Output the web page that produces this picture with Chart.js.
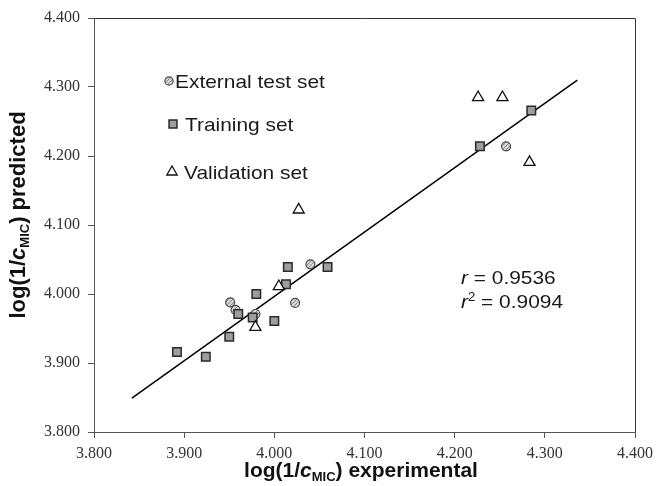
<!DOCTYPE html>
<html>
<head>
<meta charset="utf-8">
<script src="https://cdn.jsdelivr.net/npm/chart.js@4.4.1/dist/chart.umd.min.js"></script>
<style>
  html, body { margin: 0; padding: 0; background: #fff; }
  #wrap { width: 659px; height: 486px; position: relative; }
</style>
</head>
<body>
<div id="wrap"><canvas id="chart"></canvas></div>
<script>
'use strict';

// ── Data ───────────────────────────────────────────────────────────────────
const trainX = [3.892, 3.924, 3.950, 3.960, 3.976, 3.980, 4.000, 4.013, 4.015, 4.059, 4.228, 4.285];
const trainY = [3.916, 3.909, 3.938, 3.971, 3.966, 4.000, 3.961, 4.014, 4.039, 4.039, 4.214, 4.266];

const extX = [3.951, 3.957, 3.979, 4.023, 4.040, 4.257];
const extY = [3.988, 3.977, 3.971, 3.987, 4.043, 4.214];

const valX = [3.979, 4.005, 4.027, 4.226, 4.253, 4.283];
const valY = [3.952, 4.011, 4.122, 4.285, 4.285, 4.191];

// regression line end points
const fitX = [3.842, 4.336];
const fitY = [3.849, 4.310];

const axisMin  = 3.8;
const axisMax  = 4.4;
const axisStep = 0.1;

const legendLabels = ['External test set', 'Training set', 'Validation set'];
const statLines    = ['0.9536', '0.9094'];

// ── Helpers ────────────────────────────────────────────────────────────────
const SANS  = '"Liberation Sans", Arial, sans-serif';
const SERIF = '"Liberation Serif", "Times New Roman", serif';
const WIDE  = 1.1; // the in-plot labels are set a little wider than Arial

function zip(xs, ys) {
  return xs.map(function (x, i) { return { x: x, y: ys[i] }; });
}

/** Small diagonal hatch used for the external test set circles. */
function hatchPattern() {
  const c = document.createElement('canvas');
  c.width = 4; c.height = 4;
  const g = c.getContext('2d');
  g.fillStyle = '#d4d4d4';
  g.fillRect(0, 0, 4, 4);
  g.strokeStyle = '#8c8c8c';
  g.lineWidth = 1;
  g.beginPath();
  g.moveTo(0, 4); g.lineTo(4, 0);
  g.stroke();
  return g.createPattern(c, 'repeat');
}

/** Text runs with mixed fonts / baselines. */
function runsWidth(ctx, runs) {
  let w = 0;
  runs.forEach(function (r) { ctx.font = r.f; w += ctx.measureText(r.t).width; });
  return w;
}
function drawRuns(ctx, runs, x, y) {
  runs.forEach(function (r) {
    ctx.font = r.f;
    ctx.fillText(r.t, x, y + (r.dy || 0));
    x += ctx.measureText(r.t).width;
  });
}
function drawWide(ctx, runs, x, y) {
  ctx.save();
  ctx.translate(x, y);
  ctx.scale(WIDE, 1);
  drawRuns(ctx, runs, 0, 0);
  ctx.restore();
}

const hatch = hatchPattern();

const styles = {
  ext:   { pointStyle: 'circle',   radius: 4.5, fill: hatch,     border: '#4a4a4a', bw: 1.2 },
  train: { pointStyle: 'rect',     radius: 6.0, fill: '#9e9e9e', border: '#2a2a2a', bw: 1.5 },
  val:   { pointStyle: 'triangle', radius: 6.4, fill: '#ffffff', border: '#111111', bw: 1.3 },
};

// ── Overlay: frame, in-plot legend, stats, axis titles ─────────────────────
const overlay = {
  id: 'overlay',
  afterDraw: function (chart) {
    const ctx = chart.ctx;
    const a = chart.chartArea;
    ctx.save();

    // top + right frame
    ctx.strokeStyle = '#333';
    ctx.lineWidth = 1;
    ctx.beginPath();
    ctx.moveTo(a.left, a.top + 0.5);
    ctx.lineTo(a.right + 0.5, a.top + 0.5);
    ctx.lineTo(a.right + 0.5, a.bottom);
    ctx.stroke();

    // legend inside the plot
    const rows = [
      { s: styles.ext,   mx: 169, my: 81,  tx: 175 },
      { s: styles.train, mx: 173, my: 124, tx: 185 },
      { s: styles.val,   mx: 172, my: 172, tx: 184 },
    ];
    ctx.textBaseline = 'alphabetic';
    ctx.textAlign = 'left';
    rows.forEach(function (r, i) {
      ctx.fillStyle = r.s.fill;
      ctx.strokeStyle = r.s.border;
      ctx.lineWidth = r.s.bw;
      Chart.helpers.drawPoint(ctx, {
        pointStyle: r.s.pointStyle, radius: r.s.radius - 0.4, rotation: 0, borderWidth: r.s.bw,
      }, r.mx, r.my);
      ctx.fillStyle = '#1a1a1a';
      drawWide(ctx, [{ t: legendLabels[i], f: '19px ' + SANS }], r.tx, r.my + 7);
    });

    // correlation stats
    ctx.fillStyle = '#1a1a1a';
    drawWide(ctx, [
      { t: 'r', f: 'italic 19px ' + SANS },
      { t: ' = ' + statLines[0], f: '19px ' + SANS },
    ], 461, 284);
    drawWide(ctx, [
      { t: 'r', f: 'italic 19px ' + SANS },
      { t: '2', f: '12px ' + SANS, dy: -7 },
      { t: ' = ' + statLines[1], f: '19px ' + SANS },
    ], 461, 308);

    // axis titles (subscript MIC needs mixed fonts)
    function titleRuns(tail, size) {
      return [
        { t: 'log(1/', f: 'bold ' + size + 'px ' + SANS },
        { t: 'c', f: 'italic bold ' + size + 'px ' + SANS },
        { t: 'MIC', f: 'bold 13px ' + SANS, dy: 4 },
        { t: ') ' + tail, f: 'bold ' + size + 'px ' + SANS },
      ];
    }
    ctx.fillStyle = '#111';
    const xr = titleRuns('experimental', 21);
    drawRuns(ctx, xr, 361 - runsWidth(ctx, xr) / 2, 477);

    const yr = titleRuns('predicted', 22);
    ctx.translate(25, 215);
    ctx.rotate(-Math.PI / 2);
    drawRuns(ctx, yr, -runsWidth(ctx, yr) / 2, 0);

    ctx.restore();
  },
};

// ── Chart ──────────────────────────────────────────────────────────────────
function dataset(label, pts, s, order) {
  return {
    label: label,
    data: pts,
    pointStyle: s.pointStyle,
    pointRadius: s.radius,
    pointBackgroundColor: s.fill,
    pointBorderColor: s.border,
    pointBorderWidth: s.bw,
    showLine: false,
    order: order,
  };
}

const axisCommon = {
  type: 'linear',
  min: axisMin,
  max: axisMax,
  grid: { drawOnChartArea: false, drawTicks: true, tickLength: 6, color: '#555' },
  border: { color: '#555', width: 1 },
  ticks: {
    stepSize: axisStep,
    color: '#333',
    font: { family: SERIF, size: 16 },
    callback: function (v) { return Number(v).toFixed(3); },
  },
};

new Chart(document.getElementById('chart'), {
  type: 'scatter',
  data: {
    datasets: [
      dataset(legendLabels[2], zip(valX, valY), styles.val, 0),
      dataset(legendLabels[1], zip(trainX, trainY), styles.train, 1),
      dataset(legendLabels[0], zip(extX, extY), styles.ext, 2),
      {
        label: 'fit',
        data: zip(fitX, fitY),
        showLine: true,
        pointRadius: 0,
        borderColor: '#000',
        borderWidth: 1.5,
        order: 3,
      },
    ],
  },
  options: {
    responsive: true,
    maintainAspectRatio: false,
    animation: false,
    layout: { padding: { top: 18, right: 23, left: 0, bottom: 0 } },
    plugins: { legend: { display: false }, tooltip: { enabled: false } },
    scales: {
      x: Object.assign({}, axisCommon, {
        position: 'bottom',
        ticks: Object.assign({}, axisCommon.ticks, { padding: 6, maxRotation: 0 }),
        afterFit: function (scale) { scale.height = 54; },
      }),
      y: Object.assign({}, axisCommon, {
        position: 'left',
        ticks: Object.assign({}, axisCommon.ticks, { padding: 8 }),
        afterFit: function (scale) { scale.width = 94; },
      }),
    },
  },
  plugins: [overlay],
});
</script>
</body>
</html>
